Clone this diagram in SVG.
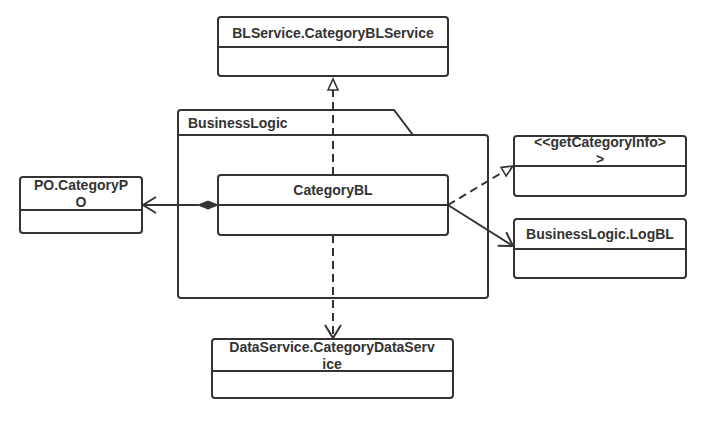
<svg xmlns="http://www.w3.org/2000/svg" width="711" height="421" viewBox="0 0 711 421">
<defs>
<style>
.box{fill:#fff;stroke:#333;stroke-width:2}
.ln{fill:none;stroke:#333;stroke-width:2}
.dash{fill:none;stroke:#333;stroke-width:2;stroke-dasharray:8,5}
text{font-family:"Liberation Sans",Arial,sans-serif;font-weight:bold;font-size:14px;fill:#333}
.c{text-anchor:middle}
</style>
<marker id="tri" markerWidth="14" markerHeight="14" refX="12" refY="6" orient="auto" markerUnits="userSpaceOnUse">
<path d="M1,1 L12,6 L1,11 Z" fill="#fff" stroke="#333" stroke-width="1.6"/>
</marker>
<marker id="open" markerWidth="16" markerHeight="20" refX="14" refY="9" orient="auto" markerUnits="userSpaceOnUse">
<path d="M1,1 L14,9 L1,17" fill="none" stroke="#333" stroke-width="2"/>
</marker>
</defs>
<rect width="711" height="421" fill="#fff"/>
<g id="BusinessLogic">
<path class="box" d="M178,135 V113 a3,3 0 0 1 3,-3 H394 L413,135 H485 a3,3 0 0 1 3,3 V295 a3,3 0 0 1 -3,3 H181 a3,3 0 0 1 -3,-3 Z"/>
<line class="ln" x1="178" y1="135" x2="413" y2="135"/>
<text x="188" y="128">BusinessLogic</text>
</g>
<g id="connectors">
<line class="dash" x1="333" y1="175" x2="333" y2="79" marker-end="url(#tri)"/>
<line class="dash" x1="333" y1="235" x2="333" y2="338" marker-end="url(#open)"/>
<line class="ln" x1="198" y1="205" x2="143" y2="205" marker-end="url(#open)"/>
<path d="M218,205 L208,201 L198,205 L208,209 Z" fill="#333" stroke="#333" stroke-width="1"/>
<line class="dash" x1="448" y1="205" x2="513" y2="166" marker-end="url(#tri)"/>
<line class="ln" x1="448" y1="205" x2="513" y2="246" marker-end="url(#open)"/>
</g>
<g id="CategoryBLService">
<rect class="box" x="218" y="17" width="230" height="59" rx="3"/>
<line class="ln" x1="218" y1="47" x2="448" y2="47"/>
<text class="c" x="333" y="38">BLService.CategoryBLService</text>
</g>
<g id="CategoryBL">
<rect class="box" x="218" y="175" width="230" height="60" rx="3"/>
<line class="ln" x1="218" y1="205" x2="448" y2="205"/>
<text class="c" x="333" y="195">CategoryBL</text>
</g>
<g id="CategoryPO">
<rect class="box" x="20" y="177" width="122" height="56" rx="3"/>
<line class="ln" x1="20" y1="210" x2="142" y2="210"/>
<text class="c" x="81" y="190">PO.CategoryP<tspan x="81" dy="16.5">O</tspan></text>
</g>
<g id="getCategoryInfo">
<rect class="box" x="514" y="136" width="172" height="60" rx="3"/>
<line class="ln" x1="514" y1="166" x2="686" y2="166"/>
<text class="c" x="600" y="147">&lt;&lt;getCategoryInfo&gt;<tspan x="600" dy="16.5">&gt;</tspan></text>
</g>
<g id="LogBL">
<rect class="box" x="514" y="219" width="172" height="59" rx="3"/>
<line class="ln" x1="514" y1="249" x2="686" y2="249"/>
<text class="c" x="600" y="239">BusinessLogic.LogBL</text>
</g>
<g id="CategoryDataService">
<rect class="box" x="212" y="339" width="241" height="59" rx="3"/>
<line class="ln" x1="212" y1="371" x2="453" y2="371"/>
<text class="c" x="332" y="352">DataService.CategoryDataServ<tspan x="332" dy="16.5">ice</tspan></text>
</g>
</svg>
